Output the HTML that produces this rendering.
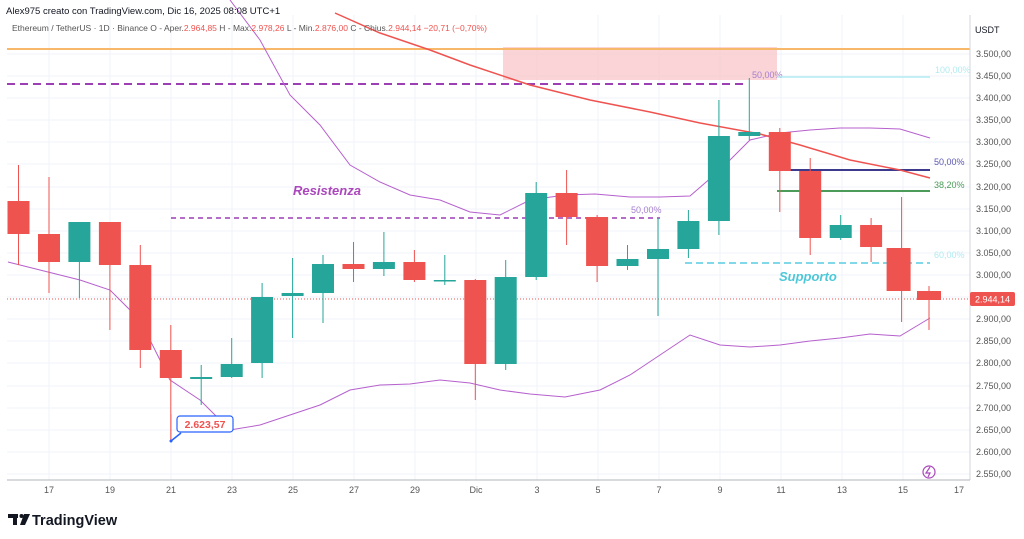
<!DOCTYPE html>
<html><head><meta charset="utf-8"><style>
body{margin:0;background:#fff;width:1024px;height:539px;overflow:hidden;font-family:"Liberation Sans",sans-serif}
svg{position:absolute;left:0;top:0}
</style></head><body>
<svg width="1024" height="539" xmlns="http://www.w3.org/2000/svg" font-family="Liberation Sans, sans-serif">
<g stroke="#f0f3fa" stroke-width="1">
<line x1="7" x2="970" y1="54" y2="54"/><line x1="7" x2="970" y1="76" y2="76"/><line x1="7" x2="970" y1="98" y2="98"/><line x1="7" x2="970" y1="120" y2="120"/><line x1="7" x2="970" y1="142" y2="142"/><line x1="7" x2="970" y1="164" y2="164"/><line x1="7" x2="970" y1="187" y2="187"/><line x1="7" x2="970" y1="209" y2="209"/><line x1="7" x2="970" y1="231" y2="231"/><line x1="7" x2="970" y1="253" y2="253"/><line x1="7" x2="970" y1="275" y2="275"/><line x1="7" x2="970" y1="297" y2="297"/><line x1="7" x2="970" y1="319" y2="319"/><line x1="7" x2="970" y1="341" y2="341"/><line x1="7" x2="970" y1="363" y2="363"/><line x1="7" x2="970" y1="386" y2="386"/><line x1="7" x2="970" y1="408" y2="408"/><line x1="7" x2="970" y1="430" y2="430"/><line x1="7" x2="970" y1="452" y2="452"/><line x1="7" x2="970" y1="474" y2="474"/>
<line x1="49" x2="49" y1="15" y2="480"/><line x1="110" x2="110" y1="15" y2="480"/><line x1="171" x2="171" y1="15" y2="480"/><line x1="232" x2="232" y1="15" y2="480"/><line x1="293" x2="293" y1="15" y2="480"/><line x1="354" x2="354" y1="15" y2="480"/><line x1="415" x2="415" y1="15" y2="480"/><line x1="476" x2="476" y1="15" y2="480"/><line x1="537" x2="537" y1="15" y2="480"/><line x1="598" x2="598" y1="15" y2="480"/><line x1="659" x2="659" y1="15" y2="480"/><line x1="720" x2="720" y1="15" y2="480"/><line x1="781" x2="781" y1="15" y2="480"/><line x1="842" x2="842" y1="15" y2="480"/><line x1="903" x2="903" y1="15" y2="480"/>
</g>
<rect x="503" y="47" width="274" height="33" fill="#f9c9cc" opacity="0.8"/>
<line x1="7" x2="970" y1="49" y2="49" stroke="#f7b86a" stroke-width="2"/>
<line x1="7" x2="745" y1="84" y2="84" stroke="#9c3fb5" stroke-width="2" stroke-dasharray="8,5"/>
<text x="752" y="78" font-size="9" fill="#a67fd0">50,00%</text>
<line x1="777" x2="930" y1="77" y2="77" stroke="#b2ebf2" stroke-width="1.5"/>
<text x="935" y="73" font-size="9" fill="#b2ebf2">100,00%</text>
<line x1="171" x2="660" y1="218" y2="218" stroke="#9c3fb5" stroke-width="1.5" stroke-dasharray="5,4"/>
<text x="631" y="213" font-size="9" fill="#a67fd0">50,00%</text>
<text x="293" y="195" font-size="13" font-weight="bold" font-style="italic" fill="#ab47bc">Resistenza</text>
<line x1="777" x2="930" y1="170" y2="170" stroke="#3c3a8c" stroke-width="2"/>
<text x="934" y="165" font-size="9" fill="#5c57b0">50,00%</text>
<line x1="777" x2="930" y1="191" y2="191" stroke="#4c9b5a" stroke-width="2"/>
<text x="934" y="188" font-size="9" fill="#4c9b5a">38,20%</text>
<line x1="685" x2="930" y1="263" y2="263" stroke="#80d8e8" stroke-width="2" stroke-dasharray="7,4"/>
<text x="934" y="258" font-size="9" fill="#b2ebf2">60,00%</text>
<text x="779" y="281" font-size="13" font-weight="bold" font-style="italic" fill="#4ec8d8">Supporto</text>
<line x1="7" x2="970" y1="299" y2="299" stroke="#ef5350" stroke-width="1" stroke-dasharray="1,2"/>
<polyline fill="none" stroke="#b660cd" stroke-width="1" points="230,0 260,40 290,95 320,125 350,165 380,182 410,195 440,200 470,212 500,215 530,200 565,195 595,194 630,197 660,197 690,196 720,170 750,140 780,133 810,130 840,128 870,128 900,129 930,138"/>
<polyline fill="none" stroke="#b660cd" stroke-width="1" points="8,262 40,270 80,280 110,290 140,320 170,380 200,400 230,430 260,425 290,415 320,405 350,390 380,385 410,384 440,380 470,383 500,390 530,394 565,397 600,390 630,375 660,355 690,335 720,345 750,347 780,345 810,341 840,338 870,334 900,336 930,318"/>
<polyline fill="none" stroke="#ef5350" stroke-width="1.5" points="335,13 380,33 430,50 470,65 530,85 590,100 650,112 700,123 760,134 800,145 850,160 900,170 930,178"/>
<g stroke-width="1">
<!-- candles -->
<line x1="18.5" x2="18.5" y1="165" y2="265" stroke="#ef5350"/><rect x="7.5" y="201" width="22" height="33" fill="#ef5350"/>
<line x1="49" x2="49" y1="177" y2="293" stroke="#ef5350"/><rect x="38" y="234" width="22" height="28" fill="#ef5350"/>
<line x1="79.4" x2="79.4" y1="222" y2="298" stroke="#26a69a"/><rect x="68.4" y="222" width="22" height="40" fill="#26a69a"/>
<line x1="109.9" x2="109.9" y1="222" y2="330" stroke="#ef5350"/><rect x="98.9" y="222" width="22" height="43" fill="#ef5350"/>
<line x1="140.3" x2="140.3" y1="245" y2="368" stroke="#ef5350"/><rect x="129.3" y="265" width="22" height="85" fill="#ef5350"/>
<line x1="170.8" x2="170.8" y1="325" y2="441" stroke="#ef5350"/><rect x="159.8" y="350" width="22" height="28" fill="#ef5350"/>
<line x1="201.2" x2="201.2" y1="365" y2="405" stroke="#26a69a"/><rect x="190.2" y="377" width="22" height="2" fill="#26a69a"/>
<line x1="231.7" x2="231.7" y1="338" y2="378" stroke="#26a69a"/><rect x="220.7" y="364" width="22" height="13" fill="#26a69a"/>
<line x1="262.1" x2="262.1" y1="283" y2="378" stroke="#26a69a"/><rect x="251.1" y="297" width="22" height="66" fill="#26a69a"/>
<line x1="292.6" x2="292.6" y1="258" y2="338" stroke="#26a69a"/><rect x="281.6" y="293" width="22" height="3" fill="#26a69a"/>
<line x1="323" x2="323" y1="255" y2="323" stroke="#26a69a"/><rect x="312" y="264" width="22" height="29" fill="#26a69a"/>
<line x1="353.5" x2="353.5" y1="242" y2="282" stroke="#ef5350"/><rect x="342.5" y="264" width="22" height="5" fill="#ef5350"/>
<line x1="383.9" x2="383.9" y1="232" y2="276" stroke="#26a69a"/><rect x="372.9" y="262" width="22" height="7" fill="#26a69a"/>
<line x1="414.4" x2="414.4" y1="250" y2="282" stroke="#ef5350"/><rect x="403.4" y="262" width="22" height="18" fill="#ef5350"/>
<line x1="444.8" x2="444.8" y1="255" y2="285" stroke="#26a69a"/><rect x="433.8" y="280" width="22" height="1.5" fill="#26a69a"/>
<line x1="475.3" x2="475.3" y1="279" y2="400" stroke="#ef5350"/><rect x="464.3" y="280" width="22" height="84" fill="#ef5350"/>
<line x1="505.7" x2="505.7" y1="260" y2="370" stroke="#26a69a"/><rect x="494.7" y="277" width="22" height="87" fill="#26a69a"/>
<line x1="536.2" x2="536.2" y1="182" y2="280" stroke="#26a69a"/><rect x="525.2" y="193" width="22" height="84" fill="#26a69a"/>
<line x1="566.6" x2="566.6" y1="170" y2="245" stroke="#ef5350"/><rect x="555.6" y="193" width="22" height="24" fill="#ef5350"/>
<line x1="597.1" x2="597.1" y1="215" y2="282" stroke="#ef5350"/><rect x="586.1" y="217" width="22" height="49" fill="#ef5350"/>
<line x1="627.5" x2="627.5" y1="245" y2="270" stroke="#26a69a"/><rect x="616.5" y="259" width="22" height="7" fill="#26a69a"/>
<line x1="658" x2="658" y1="218" y2="316" stroke="#26a69a"/><rect x="647" y="249" width="22" height="10" fill="#26a69a"/>
<line x1="688.4" x2="688.4" y1="210" y2="258" stroke="#26a69a"/><rect x="677.4" y="221" width="22" height="28" fill="#26a69a"/>
<line x1="718.9" x2="718.9" y1="100" y2="235" stroke="#26a69a"/><rect x="707.9" y="136" width="22" height="85" fill="#26a69a"/>
<line x1="749.3" x2="749.3" y1="78" y2="140" stroke="#26a69a"/><rect x="738.3" y="132" width="22" height="4" fill="#26a69a"/>
<line x1="779.8" x2="779.8" y1="128" y2="212" stroke="#ef5350"/><rect x="768.8" y="132" width="22" height="39" fill="#ef5350"/>
<line x1="810.2" x2="810.2" y1="158" y2="255" stroke="#ef5350"/><rect x="799.2" y="171" width="22" height="67" fill="#ef5350"/>
<line x1="840.7" x2="840.7" y1="215" y2="240" stroke="#26a69a"/><rect x="829.7" y="225" width="22" height="13" fill="#26a69a"/>
<line x1="871.1" x2="871.1" y1="218" y2="262" stroke="#ef5350"/><rect x="860.1" y="225" width="22" height="22" fill="#ef5350"/>
<line x1="901.6" x2="901.6" y1="197" y2="322" stroke="#ef5350"/><rect x="886.6" y="248" width="24" height="43" fill="#ef5350"/>
<line x1="929" x2="929" y1="286" y2="330" stroke="#ef5350"/><rect x="917" y="291" width="24" height="9" fill="#ef5350"/>
</g>
<line x1="171" x2="171" y1="441" y2="414" stroke="#ef5350" stroke-width="0.8"/>
<circle cx="171" cy="441" r="1.5" fill="#2962ff"/>
<path d="M171,441 L181,433" stroke="#2962ff" stroke-width="1.5"/>
<rect x="177" y="416" width="56" height="16" rx="3" fill="#fff" stroke="#2962ff" stroke-width="1.2"/>
<text x="205" y="428" font-size="10.5" font-weight="bold" fill="#ef5350" text-anchor="middle">2.623,57</text>
<circle cx="929" cy="472" r="6" fill="none" stroke="#ab47bc" stroke-width="1.2"/>
<path d="M930,467 L926,473 L930,473 L928,477" stroke="#ab47bc" fill="none" stroke-width="1.2"/>
<line x1="970" x2="970" y1="15" y2="480" stroke="#d1d4dc"/>
<line x1="7" x2="970" y1="480" y2="480" stroke="#b2b5be"/>
<text x="975" y="33" font-size="9" fill="#131722">USDT</text>
<g font-size="9" fill="#555" text-anchor="start">
<text x="976" y="57">3.500,00</text><text x="976" y="79">3.450,00</text><text x="976" y="101">3.400,00</text><text x="976" y="123">3.350,00</text><text x="976" y="145">3.300,00</text><text x="976" y="167">3.250,00</text><text x="976" y="190">3.200,00</text><text x="976" y="212">3.150,00</text><text x="976" y="234">3.100,00</text><text x="976" y="256">3.050,00</text><text x="976" y="278">3.000,00</text><text x="976" y="322">2.900,00</text><text x="976" y="344">2.850,00</text><text x="976" y="366">2.800,00</text><text x="976" y="389">2.750,00</text><text x="976" y="411">2.700,00</text><text x="976" y="433">2.650,00</text><text x="976" y="455">2.600,00</text><text x="976" y="477">2.550,00</text>
</g>
<rect x="970" y="292" width="45" height="14" rx="2" fill="#ef5350"/>
<text x="975" y="302.5" font-size="9" fill="#fff">2.944,14</text>
<g font-size="9" fill="#555" text-anchor="middle">
<text x="49" y="493">17</text><text x="110" y="493">19</text><text x="171" y="493">21</text><text x="232" y="493">23</text><text x="293" y="493">25</text><text x="354" y="493">27</text><text x="415" y="493">29</text><text x="476" y="493">Dic</text><text x="537" y="493">3</text><text x="598" y="493">5</text><text x="659" y="493">7</text><text x="720" y="493">9</text><text x="781" y="493">11</text><text x="842" y="493">13</text><text x="903" y="493">15</text><text x="959" y="493">17</text>
</g>
<text x="6" y="14" font-size="9.5" fill="#131722">Alex975 creato con TradingView.com, Dic 16, 2025 08:08 UTC+1</text>
<text x="12" y="31" font-size="8.5" fill="#555">Ethereum / TetherUS · 1D · Binance  O - Aper.<tspan fill="#ef5350">2.964,85</tspan>  H - Max.<tspan fill="#ef5350">2.978,26</tspan>  L - Min.<tspan fill="#ef5350">2.876,00</tspan>  C - Chius.<tspan fill="#ef5350">2.944,14  −20,71 (−0,70%)</tspan></text>
<g fill="#131722">
<rect x="8" y="514" width="10" height="4"/><rect x="13" y="514" width="4" height="11"/><circle cx="21.5" cy="516" r="2"/><path d="M24,514 L30,514 L25,525 L20,525 Z"/>
</g>
<text x="32" y="525" font-size="14.5" font-weight="bold" fill="#131722">TradingView</text>
</svg>
</body></html>
